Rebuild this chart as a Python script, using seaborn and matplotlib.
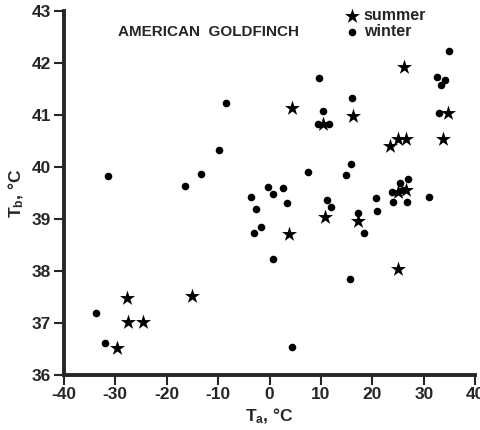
import matplotlib
matplotlib.use("Agg")
import matplotlib.pyplot as plt
import seaborn as sns
import pandas as pd

summer_ta = [-29.7, -27.7, -27.5, -24.6, -15.1, 3.8, 4.4, 10.4, 10.8, 16.2,
             17.3, 23.4, 25.0, 26.6, 26.1, 25.0, 25.0, 26.5, 34.7, 33.7]
summer_tb = [36.52, 37.48, 37.02, 37.02, 37.52, 38.72, 41.13, 40.83, 39.04, 40.99,
             38.96, 40.41, 40.55, 40.55, 41.93, 38.04, 39.52, 39.55, 41.05, 40.55]

winter_ta = [-33.7, -32.0, -31.4, -16.5, -13.4, -9.8, -8.5, -3.6, -2.6, -3.0,
             -1.7, -0.2, 0.7, 0.6, 2.7, 3.4, 4.4, 7.5, 9.7, 10.4,
             9.4, 11.6, 11.2, 11.9, 14.9, 15.8, 16.0, 15.6, 17.3, 18.4,
             20.7, 20.9, 23.8, 25.9, 25.4, 26.9, 24.1, 26.8, 31.1, 32.6,
             34.1, 33.3, 33.0, 34.9]
winter_tb = [37.19, 36.62, 39.83, 39.64, 39.86, 40.32, 41.24, 39.43, 39.20, 38.74,
             38.85, 39.62, 39.49, 38.23, 39.60, 39.31, 36.54, 39.90, 41.72, 41.07,
             40.83, 40.83, 39.37, 39.24, 39.84, 40.05, 41.33, 37.85, 39.11, 38.74,
             39.41, 39.15, 39.52, 39.55, 39.70, 39.77, 39.33, 39.33, 39.43, 41.73,
             41.68, 41.57, 41.05, 42.24]

x_ticks = [-40, -30, -20, -10, 0, 10, 20, 30, 40]
y_ticks = [36, 37, 38, 39, 40, 41, 42, 43]

sns.set_style("ticks")
plt.rcParams['font.family'] = ['Liberation Sans', 'DejaVu Sans']
plt.rcParams['mathtext.default'] = 'regular'
plt.rcParams['axes.unicode_minus'] = False

summer = pd.DataFrame({"Ta": summer_ta, "Tb": summer_tb})
winter = pd.DataFrame({"Ta": winter_ta, "Tb": winter_tb})

fig = plt.figure(figsize=(4.8, 4.3), dpi=100)
ax = fig.add_axes([0.133, 0.128, 0.857, 0.846])

sns.scatterplot(data=winter, x="Ta", y="Tb", ax=ax, marker="o", color="black",
                s=30, linewidth=0, label="winter", zorder=3)
sns.scatterplot(data=summer, x="Ta", y="Tb", ax=ax, marker="*", color="black",
                s=130, linewidth=0, label="summer", zorder=4)

ax.set_xlim(-40, 40)
ax.set_ylim(36, 43)
ax.set_xticks(x_ticks)
ax.set_yticks(y_ticks)
ax.tick_params(axis="both", direction="out", length=7, width=1.5, labelsize=12.5, pad=2)
for lab in ax.get_xticklabels() + ax.get_yticklabels():
    lab.set_fontweight("bold")
for side in ["top", "right"]:
    ax.spines[side].set_visible(False)
for side in ["left", "bottom"]:
    ax.spines[side].set_linewidth(2.8)

ax.set_xlabel("T$_a$, °C", fontsize=12.5, fontweight="bold", labelpad=3)
ax.set_ylabel("T$_b$, °C", fontsize=12.5, fontweight="bold", labelpad=4)

ax.text(0.131, 0.942, "AMERICAN  GOLDFINCH", transform=ax.transAxes,
        fontsize=11, fontweight="bold", va="center", ha="left")

h, l = ax.get_legend_handles_labels()
order = [l.index("summer"), l.index("winter")]
ax.legend([h[i] for i in order], [l[i] for i in order], loc="upper left",
          bbox_to_anchor=(0.665, 1.025), frameon=False,
          handletextpad=0.25, labelspacing=0.05, borderaxespad=0, handlelength=1.0,
          prop={"weight": "bold", "size": 11.5})

fig.savefig("out.png", dpi=100)
